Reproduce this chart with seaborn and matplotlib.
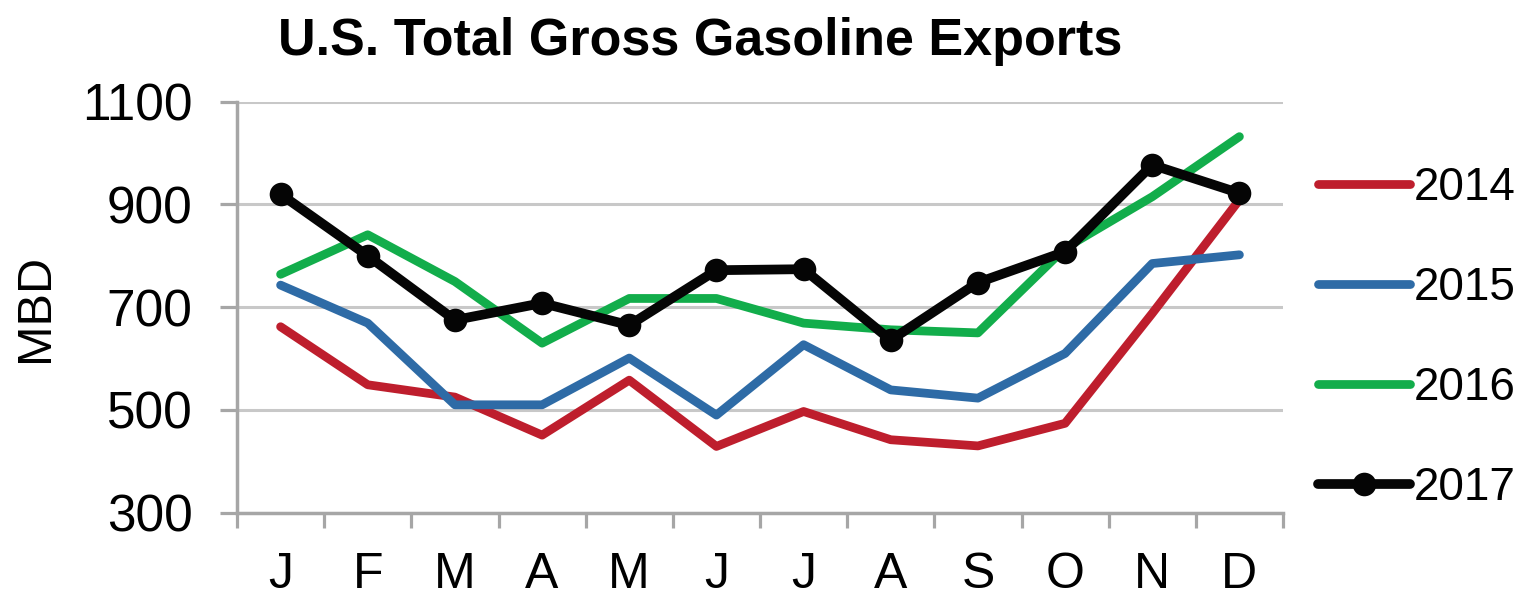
import matplotlib
matplotlib.use("Agg")
import matplotlib.pyplot as plt
import seaborn as sns
import pandas as pd
from matplotlib.ticker import FixedLocator

months = ["J", "F", "M", "A", "M", "J", "J", "A", "S", "O", "N", "D"]
years = ["2014", "2015", "2016", "2017"]
v2014 = [662, 549, 525, 451, 558, 429, 497, 442, 430, 474, 688, 909]
v2015 = [743, 669, 510, 510, 601, 490, 627, 539, 523, 610, 785, 802]
v2016 = [764, 841, 750, 630, 717, 717, 669, 656, 650, 815, 915, 1032]
v2017 = [920, 800, 675, 708, 665, 772, 774, 636, 748, 808, 977, 922]
series = {"2014": v2014, "2015": v2015, "2016": v2016, "2017": v2017}
colors = {"2014": "#BE1E2D", "2015": "#2E6BA6", "2016": "#12AD4B", "2017": "#050505"}

rows = []
for y, vals in series.items():
    for i, v in enumerate(vals):
        rows.append({"idx": i, "year": y, "value": v})
df = pd.DataFrame(rows)

sns.set_theme(style="white")
plt.rcParams["font.family"] = ["Liberation Sans", "DejaVu Sans"]

fig = plt.figure(figsize=(15.2, 5.95), dpi=100)
ax = fig.add_axes([237/1520, 1-512.7/595, (1283-237)/1520, (512.7-101.7)/595])

for y in years:
    d = df[df["year"] == y]
    if y == "2017":
        sns.lineplot(data=d, x="idx", y="value", ax=ax, color=colors[y], lw=7,
                     marker="o", markersize=17, markeredgewidth=0, label=y, zorder=5)
    else:
        sns.lineplot(data=d, x="idx", y="value", ax=ax, color=colors[y], lw=6.3,
                     label=y, zorder=3)

ax.set_xlim(-0.5, 11.5)
ax.set_ylim(300, 1100)
ax.set_yticks([300, 500, 700, 900, 1100])
ax.set_xticks(range(12))
ax.set_xticklabels(months)
ax.xaxis.set_minor_locator(FixedLocator([i - 0.5 for i in range(13)]))
ax.tick_params(axis="x", which="major", bottom=True, length=0, labelsize=36, pad=28,
               labelcolor="#000000")
ax.tick_params(axis="x", which="minor", bottom=True, length=11, width=2.3, color="#A6A6A6",
               direction="out")
ax.tick_params(axis="y", which="major", left=True, length=12, width=2.3, color="#A6A6A6",
               labelsize=37, direction="out", pad=20, labelcolor="#000000")
ax.grid(axis="y", color="#C8C8C8", lw=2.2, zorder=0)
ax.set_axisbelow(True)
for s in ["top", "right"]:
    ax.spines[s].set_visible(False)
for s in ["left", "bottom"]:
    ax.spines[s].set_color("#A6A6A6")
    ax.spines[s].set_linewidth(2.5)
ax.set_xlabel("")
ax.set_ylabel("")

leg = ax.legend(loc="upper left", bbox_to_anchor=((1318-237)/1046, 0.843), frameon=False,
                fontsize=33, handlelength=2.0, handletextpad=0.1, labelspacing=1.22,
                borderaxespad=0, borderpad=0, numpoints=1)
for t in leg.get_texts():
    t.set_color("#000000")

fig.text(35/1520, 1-308/595, "MBD", rotation=90, ha="center", va="center",
         fontsize=35, color="#000000")

fig.text(700/1520, 1-55/595, "U.S. Total Gross Gasoline Exports", ha="center", va="baseline",
         fontsize=37.5, fontweight="bold", color="#000000")

fig.savefig("out.png", dpi=100, facecolor="white")
